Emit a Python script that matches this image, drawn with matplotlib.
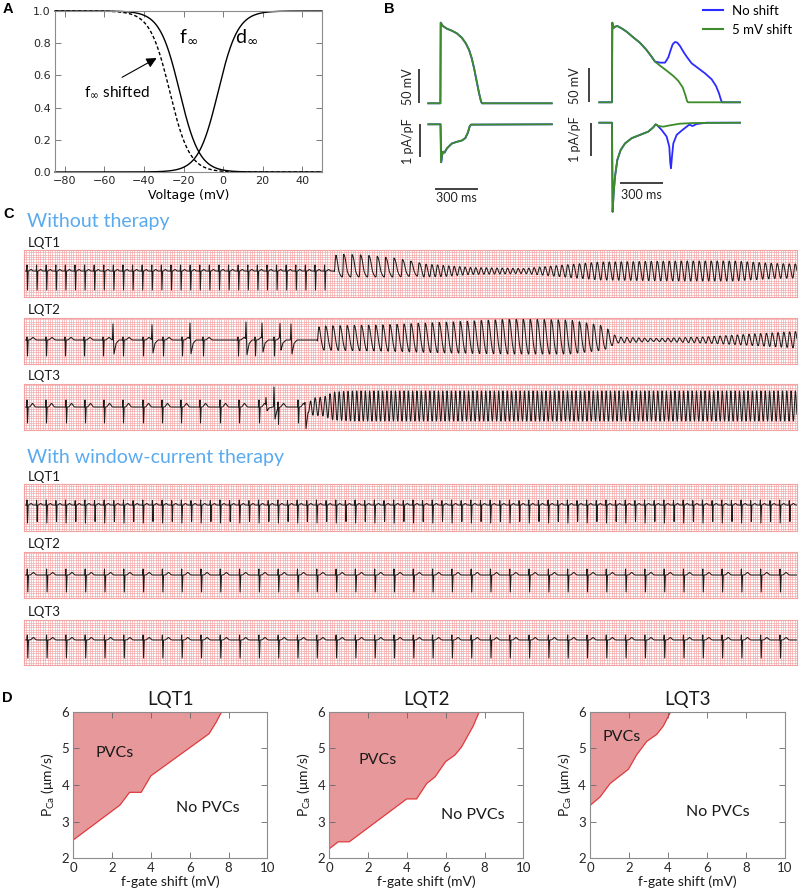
import numpy as np
import matplotlib
matplotlib.use("Agg")
import matplotlib.pyplot as plt
from matplotlib.lines import Line2D

# ================= DATA =================
# ---- Panel A: steady-state gating curves (Boltzmann parameters, mV) ----
voltage_range = (-85, 50)
f_inf_half = -22.0
f_inf_shifted_half = -27.0
d_inf_half = -2.5
gate_slope = 5.0

# ---- Panel B: action potentials (ms, mV) and L-type Ca current (ms, pA/pF) ----
apL_t = [-87, -2.2, 0, 14.7, 42.7, 77.7, 112.7, 147.7, 175.7, 198.7, 217.4, 233.7, 252.4, 268.7, 282.7, 289.7, 777]
apL_v = [-85, -85, 33.6, 28.7, 24.8, 21.8, 17.9, 11.5, 3.2, -6.6, -18.9, -33.5, -53.2, -70.3, -82.6, -85, -85]
icaL_t = [-87, -2.2, 2.1, 9.1, 16.1, 25.4, 42.7, 77.7, 112.7, 147.7, 171, 189.7, 201.4, 210.7, 777]
icaL_i = [0, 0, -1.15, -0.93, -0.83, -0.86, -0.73, -0.58, -0.53, -0.49, -0.42, -0.25, -0.07, -0.01, 0]

apR_common_t = [-91, -2.3, 0, 7, 18.7, 35, 65, 100, 147, 193, 240, 275, 299]
apR_common_v = [-85, -85, 32.1, 23.8, 26.2, 27.2, 23.8, 18.9, 10.5, 2.7, -8.1, -17.9, -25.2]
apR_shift_t = [299, 334, 380.6, 427.3, 462.3, 492.6, 511.3, 523, 530, 894]
apR_shift_v = [-25.2, -31.1, -38.5, -46.3, -53.6, -63, -74.2, -83, -85, -85]
apR_noshift_t = [299, 334, 369, 392.2, 408.6, 422.6, 438.9, 455.2, 473.9, 497.2, 520.6, 555.6, 602.2,
                 648.9, 695.6, 725.9, 746.9, 760.9, 767.9, 894]
apR_noshift_v = [-25.2, -26.7, -26.7, -18.9, -8.1, 0.3, 3.7, 2.7, -2.2, -10.5, -17.9, -27.7, -35,
                 -42.4, -51.2, -61, -71.8, -81.6, -85, -85]

icaR_common_t = [-91, -2.3, 2.3, 9.3, 18.7, 35, 58.3, 88.7, 135.3, 193.7, 252, 287, 303.3]
icaR_common_i = [0, 0, -2.7, -2.14, -1.64, -1.13, -0.83, -0.63, -0.47, -0.37, -0.27, -0.14, -0.05]
icaR_shift_t = [303.3, 322, 357, 403.6, 473.6, 567, 894]
icaR_shift_i = [-0.05, -0.1, -0.12, -0.08, -0.03, -0.01, 0]
icaR_noshift_t = [303.3, 315, 345.3, 380.3, 399, 406, 410.7, 417.7, 427, 450.3, 485.3, 520.3, 539,
                  562.3, 590.3, 660.3, 894]
icaR_noshift_i = [-0.05, -0.08, -0.22, -0.42, -0.73, -1.23, -1.38, -1.03, -0.63, -0.37, -0.24, -0.12,
                  -0.06, -0.1, -0.04, 0, 0]

scale_mv = 50      # mV
scale_pa = 1       # pA/pF
scale_ms = 300     # ms
legend_labels = ["No shift", "5 mV shift"]

# ---- Panel C: ECG strips (time in strip units, amplitude in strip units) ----
strip_len = 773
# LQT1, without therapy
c1_sinus_first, c1_sinus_cl, c1_sinus_n = 3.0, 9.6, 32
c1_beat = (6, 19, 1.5)
c1_env_t = [310, 312, 340, 370, 392, 400, 420, 446, 500, 540, 576, 660, 710, 750, 773]
c1_env_up = [0, 17, 16, 13, 9, 7, 5.5, 3.5, 2.5, 6, 9, 10, 10, 7.5, 7]
c1_env_dn = [0, 6, 6, 6, 5, 6, 5.5, 3.5, 2.5, 6, 9, 10, 10, 7.5, 7]
c1_env_period = [8.4, 8.4, 8.4, 8.4, 8.0, 5.8, 5.5, 5.3, 5.3, 5.8, 6.0, 6.0, 6.0, 6.0, 6.0]
c1_env_rise = [0.15, 0.15, 0.15, 0.15, 0.2, 0.35, 0.4, 0.45, 0.45, 0.4, 0.4, 0.4, 0.4, 0.4, 0.4]
# LQT2, without therapy
c2_sinus = [3, 22, 41, 60, 79, 99, 119, 139, 158, 179, 214, 231, 250]
c2_beat = (3, 16, 2.5)
c2_pvc = [89, 128, 166, 222, 238, 256, 267]
c2_pvc_up = [16, 15, 16, 17, 15, 14, 16]
c2_pvc_dn = [14, 13, 14, 15, 13, 12, 14]
c2_env_t = [293, 295, 356, 426, 490, 546, 580, 593, 630, 680, 720, 773]
c2_env_up = [0, 14, 15, 18, 21, 20, 14, 3, 1.5, 3, 5.5, 8.5]
c2_env_dn = [0, 10, 11, 13, 14, 14, 10, 3, 1.5, 3, 5, 8]
c2_env_period = [7.2, 7.2, 7.1, 7.0, 7.0, 7.0, 7.0, 6.0, 5.8, 5.8, 5.8, 5.8]
c2_env_rise = [0.2, 0.2, 0.2, 0.2, 0.2, 0.2, 0.25, 0.4, 0.4, 0.4, 0.4, 0.4]
# LQT3, without therapy
c3_sinus = [3, 22, 42, 61, 80, 99, 119, 138, 157, 176, 196, 215, 235, 254, 274]
c3_beat = (7, 16, 3.5)
c3_pvc = [242, 250, 281]
c3_pvc_up = [8, 20, 3]
c3_pvc_dn = [4, 12, 22]
c3_env_t = [284, 287, 300, 309, 330, 773]
c3_env_up = [0, 9, 10, 15, 16, 16]
c3_env_dn = [0, 8, 9, 13, 14, 14]
c3_env_period = [5.0, 5.0, 5.0, 4.6, 4.3, 4.3]
c3_env_rise = [0.45, 0.45, 0.45, 0.45, 0.45, 0.45]
# With window-current therapy
c4_sinus_first, c4_sinus_cl, c4_sinus_n = 3.0, 9.65, 80
c4_beat = (5, 18, 1.5)
c5_sinus_first, c5_sinus_cl, c5_sinus_n = 3.3, 19.3, 40
c5_beat = (6, 17, 2.5)
c6_sinus_first, c6_sinus_cl, c6_sinus_n = 3.3, 19.3, 40
c6_beat = (5, 18, 2.5)

# ---- Panel D: PVC boundary (f-gate shift mV, P_Ca um/s) ----
d_titles = ["LQT1", "LQT2", "LQT3"]
d1_shift = [0, 2.4, 2.9, 3.5, 4.0, 7.0, 7.35, 7.65]
d1_pca = [2.5, 3.45, 3.8, 3.8, 4.25, 5.4, 5.7, 6.0]
d2_shift = [0, 0.46, 1.03, 3.99, 4.5, 5.02, 5.45, 6.0, 6.48, 6.82, 7.42, 7.73]
d2_pca = [2.26, 2.45, 2.45, 3.62, 3.62, 4.04, 4.22, 4.64, 4.82, 5.04, 5.61, 6.0]
d3_shift = [0, 0.51, 1.03, 1.97, 2.39, 2.91, 3.42, 3.76, 4.14]
d3_pca = [3.44, 3.67, 4.04, 4.43, 4.82, 5.19, 5.38, 5.61, 6.0]

# ================= FIGURE =================
W, H = 800, 891
fig = plt.figure(figsize=(W / 100, H / 100), dpi=100)
SANS = ["Lato", "DejaVu Sans"]
SPINE = "#8c8c8c"
BLUE = "#2b2bff"
GREEN = "#3d8b2a"


def px_axes(x0, y0, x1, y1):
    return fig.add_axes([x0 / W, 1 - y1 / H, (x1 - x0) / W, (y1 - y0) / H])


def ftext(x, y, s, **kw):
    return fig.text(x / W, 1 - y / H, s, **kw)


def classic(ax, size, family=None):
    ax.tick_params(direction="in", top=True, right=True, length=4, width=0.6,
                   colors="#666666", labelcolor="#262626", labelsize=size, pad=3)
    for s in ax.spines.values():
        s.set_color(SPINE)
        s.set_linewidth(0.8)
    if family:
        for lab in ax.get_xticklabels() + ax.get_yticklabels():
            lab.set_family(family)


# panel letters
for lx, ly, L in [(3, 13, "A"), (384, 13, "B"), (3, 218, "C"), (2, 702, "D")]:
    ftext(lx, ly, L, fontsize=10.5, fontweight="bold", family="Liberation Sans")

# ---------- Panel A ----------
axA = px_axes(55, 11, 322, 172)
V = np.linspace(voltage_range[0], voltage_range[1], 800)


def boltz(v, h, k):
    return 1.0 / (1.0 + np.exp((v - h) / k))


axA.plot(V, boltz(V, f_inf_half, gate_slope), color="k", lw=1.0, clip_on=False)
axA.plot(V, boltz(V, f_inf_shifted_half, gate_slope), color="k", lw=1.0, ls=(0, (2.5, 1.6)), clip_on=False)
axA.plot(V, boltz(V, d_inf_half, -gate_slope), color="k", lw=1.0, clip_on=False)
axA.set_xlim(*voltage_range)
axA.set_ylim(0, 1)
axA.set_xticks([-80, -60, -40, -20, 0, 20, 40])
axA.set_yticks(np.arange(0, 1.01, 0.2))
axA.set_yticklabels(["%.1f" % v for v in np.arange(0, 1.01, 0.2)])
classic(axA, 8)
axA.set_xlabel("Voltage (mV)", fontsize=9, labelpad=2)
ftext(179, 42, r"f$_\infty$", fontsize=14, family=SANS)
ftext(235, 42, r"d$_\infty$", fontsize=14, family=SANS)
ftext(84, 97, r"f$_\infty$ shifted", fontsize=11, family=SANS)
axA.annotate("", xy=(-32.4, 0.716), xytext=(-52.3, 0.58),
             arrowprops=dict(arrowstyle="-|>,head_length=0.6,head_width=0.3", color="k", lw=0.8))

# ---------- Panel B ----------
T_PER_PX = 7.0
MV_PER_PX = 50.0 / 34.0
PA_PER_PX = 1.0 / 33.0


def trace_axes(x0, y0, x1, y1, t_px, base_px, base_val, per_px):
    ax = px_axes(x0, y0, x1, y1)
    ax.set_xlim((x0 - t_px) * T_PER_PX, (x1 - t_px) * T_PER_PX)
    ax.set_ylim(base_val - (y1 - base_px) * per_px, base_val + (base_px - y0) * per_px)
    ax.axis("off")
    return ax


bar_kw = dict(color="#333333", lw=1.3, solid_capstyle="butt")
lab_kw = dict(fontsize=9, family=SANS, color="#222222")

axL1 = trace_axes(400, 10, 565, 112, 440.7, 103.3, -85, MV_PER_PX)
axL1.plot(apL_t, apL_v, color=BLUE, lw=1.3)
axL1.plot(apL_t, apL_v, color=GREEN, lw=1.3)
axL1.plot([-152, -152], [-85, -85 + scale_mv], **bar_kw)
axL1.text(-229, -85 + scale_mv / 2, "%d mV" % scale_mv, rotation=90, ha="center", va="center", **lab_kw)

axL2 = trace_axes(400, 112, 565, 210, 440.7, 124.3, 0, PA_PER_PX)
axL2.plot(np.array(icaL_t) + 1.5, icaL_i, color=BLUE, lw=1.3)
axL2.plot(icaL_t, icaL_i, color=GREEN, lw=1.3)
axL2.plot([-145, -145], [0, -scale_pa], **bar_kw)
axL2.text(-229, -scale_pa / 2, "%d pA/pF" % scale_pa, rotation=90, ha="center", va="center", **lab_kw)
axL2.plot([-40, -40 + scale_ms], [-1.96, -1.96], **bar_kw)
axL2.text(-40 + scale_ms / 2, -2.24, "%d ms" % scale_ms, ha="center", va="center", **lab_kw)

axR1 = trace_axes(570, 10, 765, 112, 612.3, 102.3, -85, MV_PER_PX)
axR1.plot(apR_common_t + apR_noshift_t, apR_common_v + apR_noshift_v, color=BLUE, lw=1.3)
axR1.plot(apR_common_t + apR_shift_t, apR_common_v + apR_shift_v, color=GREEN, lw=1.3)
axR1.plot([-161, -161], [-85, -85 + scale_mv], **bar_kw)
axR1.text(-259, -85 + scale_mv / 2, "%d mV" % scale_mv, rotation=90, ha="center", va="center", **lab_kw)

axR2 = trace_axes(570, 112, 765, 218, 612.3, 122.7, 0, PA_PER_PX)
axR2.plot(icaR_common_t + icaR_noshift_t, icaR_common_i + icaR_noshift_i, color=BLUE, lw=1.3)
axR2.plot(icaR_common_t + icaR_shift_t, icaR_common_i + icaR_shift_i, color=GREEN, lw=1.3)
axR2.plot([-151, -151], [0, -scale_pa], **bar_kw)
axR2.text(-259, -scale_pa / 2, "%d pA/pF" % scale_pa, rotation=90, ha="center", va="center", **lab_kw)
axR2.plot([54, 54 + scale_ms], [-1.82, -1.82], **bar_kw)
axR2.text(54 + scale_ms / 2, -2.19, "%d ms" % scale_ms, ha="center", va="center", **lab_kw)

handles = [Line2D([], [], color=BLUE, lw=1.5), Line2D([], [], color=GREEN, lw=1.5)]
fig.legend(handles, legend_labels, loc="upper left", bbox_to_anchor=(703 / W, 1 - 5 / H),
           frameon=False, handlelength=1.5, handletextpad=0.7, labelspacing=0.5,
           borderaxespad=0, borderpad=0, prop=dict(family=SANS, size=9.5))

# ---------- Panel C ----------
XS = np.arange(0, strip_len, 0.1)


def beats_wave(times, beat, t_off, t_w):
    r, s, tw = beat
    y = np.zeros_like(XS)
    for t in times:
        y += np.interp(XS, [t - 0.4, t, t + 0.5, t + 1.1], [0, r, -s, 0], left=0, right=0)
        y += tw * np.exp(-0.5 * ((XS - t - t_off) / t_w) ** 2)
    return y


def pvc_wave(times, ups, dns):
    y = np.zeros_like(XS)
    for t, u, d in zip(times, ups, dns):
        y += np.interp(XS, [t - 0.6, t, t + 1.0, t + 3.0, t + 6.0], [0, u, -d, -0.25 * d, 0], left=0, right=0)
    return y


def vt_wave(env_t, up, dn, period, rise):
    y = np.zeros_like(XS)
    m = (XS >= env_t[0]) & (XS <= env_t[-1])
    x = XS[m]
    P = np.interp(x, env_t, period)
    ph = np.cumsum(np.full_like(x, 0.1) / P) % 1.0
    R = np.interp(x, env_t, rise)
    w = np.where(ph < R, -np.cos(np.pi * ph / R), np.cos(np.pi * (ph - R) / (1 - R)))
    y[m] = np.where(w > 0, w * np.interp(x, env_t, up), w * np.interp(x, env_t, dn))
    return y


def strip(top, bottom, base, trace):
    ax = px_axes(24, top, 797, bottom)
    lo, hi = -(bottom - base), base - top
    ax.set_xlim(0, strip_len)
    ax.set_ylim(lo, hi)
    grid_c = "#f3a3a3"
    ax.vlines(np.arange(0, strip_len + 0.01, 2.35), lo, hi, color=grid_c, lw=0.45)
    ax.hlines(np.arange(lo, hi + 0.01, 2.35), 0, strip_len, color=grid_c, lw=0.45)
    ax.plot(XS, trace, color="#1c1c1c", lw=0.75)
    ax.set_xticks([])
    ax.set_yticks([])
    for s in ax.spines.values():
        s.set_color(grid_c)
        s.set_linewidth(0.8)
    return ax


def train(first, cl, n):
    return [first + cl * k for k in range(n)]


hdr_kw = dict(fontsize=14, family=SANS, color="#5aaaf0")
lqt_kw = dict(fontsize=9.5, family=SANS, color="#1a1a1a")
ftext(27, 227, "Without therapy", **hdr_kw)
ftext(28, 247, "LQT1", **lqt_kw)
tr1 = beats_wave(train(c1_sinus_first, c1_sinus_cl, c1_sinus_n), c1_beat, 4.0, 0.9) + \
    vt_wave(c1_env_t, c1_env_up, c1_env_dn, c1_env_period, c1_env_rise)
strip(250, 297, 271, tr1)

ftext(28, 314, "LQT2", **lqt_kw)
tr2 = beats_wave(c2_sinus, c2_beat, 6.0, 1.4) + pvc_wave(c2_pvc, c2_pvc_up, c2_pvc_dn) + \
    vt_wave(c2_env_t, c2_env_up, c2_env_dn, c2_env_period, c2_env_rise)
strip(318, 364, 340, tr2)

ftext(28, 380, "LQT3", **lqt_kw)
tr3 = beats_wave(c3_sinus, c3_beat, 5.5, 1.2) + pvc_wave(c3_pvc, c3_pvc_up, c3_pvc_dn) + \
    vt_wave(c3_env_t, c3_env_up, c3_env_dn, c3_env_period, c3_env_rise)
strip(384, 430, 407, tr3)

ftext(27, 463, "With window-current therapy", **hdr_kw)
ftext(28, 481, "LQT1", **lqt_kw)
strip(484, 531, 505, beats_wave(train(c4_sinus_first, c4_sinus_cl, c4_sinus_n), c4_beat, 4.0, 0.9))
ftext(28, 548, "LQT2", **lqt_kw)
strip(552, 598, 575, beats_wave(train(c5_sinus_first, c5_sinus_cl, c5_sinus_n), c5_beat, 6.0, 1.3))
ftext(28, 616, "LQT3", **lqt_kw)
strip(620, 665, 640, beats_wave(train(c6_sinus_first, c6_sinus_cl, c6_sinus_n), c6_beat, 6.0, 1.3))

# ---------- Panel D ----------
FILL = "#e6989b"
EDGE = "#e03a3d"
d_boxes = [(73.3, 267.3), (329.3, 523.3), (590, 785)]
d_data = [(d1_shift, d1_pca), (d2_shift, d2_pca), (d3_shift, d3_pca)]
pvc_pos = [(2.15, 4.87), (2.51, 4.68), (1.64, 5.31)]
nopvc_pos = [(6.94, 3.37), (7.41, 3.18), (6.56, 3.26)]
for (x0, x1), (sx, sy), title, pp, npos in zip(d_boxes, d_data, d_titles, pvc_pos, nopvc_pos):
    ax = px_axes(x0, 711.7, x1, 858.3)
    ax.fill([0] + list(sx), [6] + list(sy), color=FILL, lw=0)
    ax.plot(sx, sy, color=EDGE, lw=0.9)
    ax.set_xlim(0, 10)
    ax.set_ylim(2, 6)
    ax.set_xticks(range(0, 11, 2))
    ax.set_yticks(range(2, 7))
    classic(ax, 9.5, SANS)
    ax.set_title(title, fontsize=13.5, family=SANS, pad=5, color="#1a1a1a")
    ax.set_xlabel("f-gate shift (mV)", fontsize=10, family=SANS, labelpad=1, color="#1a1a1a")
    ax.set_ylabel(r"P$_\mathregular{Ca}$ (μm/s)", fontsize=10, family=SANS, labelpad=3, color="#1a1a1a")
    ax.text(pp[0], pp[1], "PVCs", fontsize=11.5, family=SANS, ha="center", va="center", color="#1a1a1a")
    ax.text(npos[0], npos[1], "No PVCs", fontsize=11.5, family=SANS, ha="center", va="center", color="#1a1a1a")

fig.savefig("out.png", dpi=100)
